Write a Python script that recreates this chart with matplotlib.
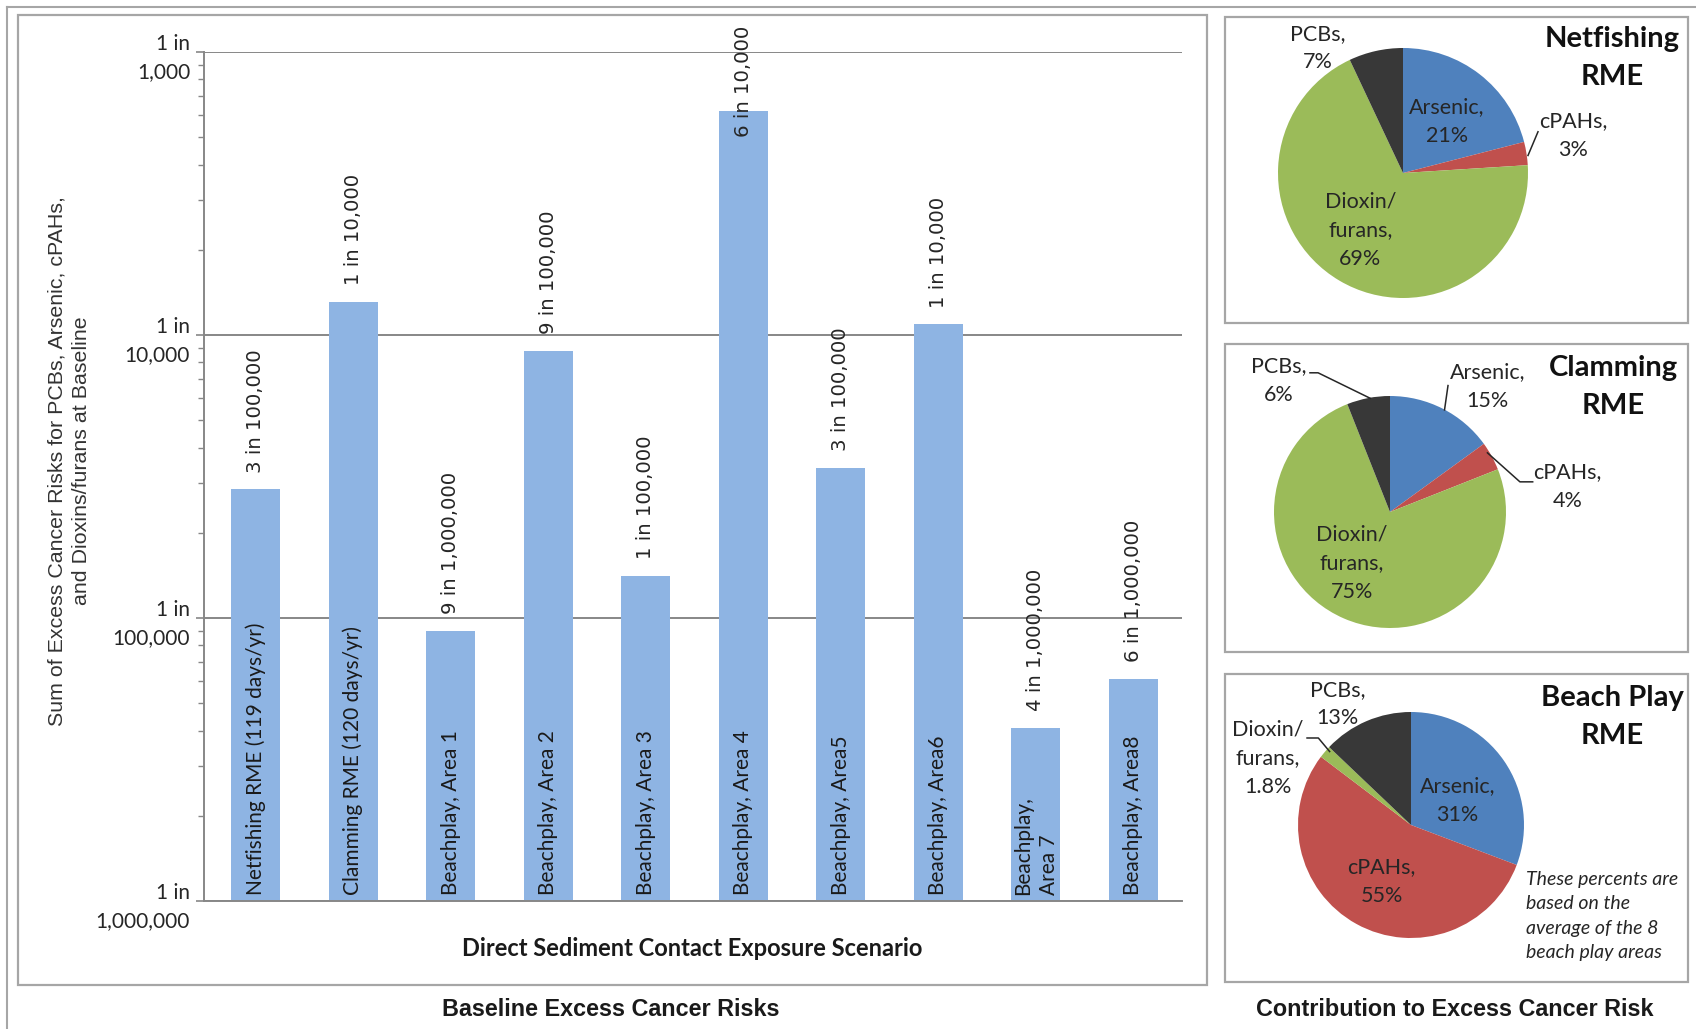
import numpy as np
import matplotlib
matplotlib.use("Agg")
import matplotlib.pyplot as plt
from matplotlib.patches import Rectangle
from matplotlib.lines import Line2D
from matplotlib.ticker import LogLocator, NullFormatter, FixedLocator

plt.rcParams['font.family'] = ['Lato', 'DejaVu Sans']

W, H, DPI = 1696, 1029, 100

# Baseline excess cancer risk per exposure scenario
scenarios = ["Netfishing RME (119 days/yr)", "Clamming RME (120 days/yr)",
             "Beachplay, Area 1", "Beachplay, Area 2", "Beachplay, Area 3",
             "Beachplay, Area 4", "Beachplay, Area5", "Beachplay, Area6",
             "Beachplay,\nArea 7", "Beachplay, Area8"]
risk = [2.85e-5, 1.31e-4, 9.0e-6, 8.8e-5, 1.41e-5,
        6.2e-4, 3.4e-5, 1.09e-4, 4.1e-6, 6.1e-6]

y_ticks = [1e-6, 1e-5, 1e-4, 1e-3]
y_tick_labels = ["1 in\n1,000,000", "1 in\n100,000", "1 in\n10,000", "1 in\n1,000"]

# Contribution of each chemical group (percent)
chemicals = ["Arsenic", "cPAHs", "Dioxin/\nfurans", "PCBs"]
netfishing_pct = [21, 3, 69, 7]
clamming_pct = [15, 4, 75, 6]
beachplay_pct = [31, 55, 1.8, 13]
pie_titles = ["Netfishing\nRME", "Clamming\nRME", "Beach Play\nRME"]

BAR_COLOR = "#8EB4E3"
PIE_COLORS = ["#4F81BD", "#C0504D", "#9BBB59", "#383838"]
GRID = "#878787"
FRAME = "#A6A6A6"


def fx(x):
    return x / W


def fy(y):
    return 1 - y / H


def risk_label(v):
    e = int(np.floor(np.log10(v)))
    m = int(round(v / 10 ** e))
    return "{} in {:,}".format(m, 10 ** (-e))


fig = plt.figure(figsize=(W / DPI, H / DPI), dpi=DPI)

# frames
fig.add_artist(Line2D([fx(7), fx(7)], [fy(7), 0], color=FRAME, lw=1.5))
fig.add_artist(Line2D([fx(7), 1], [fy(7), fy(7)], color=FRAME, lw=1.5))
fig.add_artist(Rectangle((fx(18), fy(985)), fx(1207) - fx(18), fy(15) - fy(985),
                         transform=fig.transFigure, fill=False, ec=FRAME, lw=1.6))

# ---- bar chart ----
ax = fig.add_axes([fx(204), fy(901), fx(1182) - fx(204), fy(52) - fy(901)])
x = np.arange(len(risk))
ax.bar(x, risk, width=0.5, color=BAR_COLOR, zorder=2)
ax.set_yscale("log")
ax.set_ylim(1e-6, 1e-3)
ax.set_xlim(-0.53, len(risk) - 0.5)
ax.yaxis.set_major_locator(FixedLocator(y_ticks))
ax.set_yticklabels(y_tick_labels)
ax.yaxis.set_minor_locator(LogLocator(base=10, subs=np.arange(2, 10)))
ax.yaxis.set_minor_formatter(NullFormatter())
ax.tick_params(axis="y", which="major", length=6, width=1.2, color=GRID,
               labelsize=15, labelcolor="#262626", pad=4)
ax.tick_params(axis="y", which="minor", length=4, width=1.0, color=GRID)
ax.tick_params(axis="x", bottom=False, labelbottom=False)
for lab in ax.get_yticklabels():
    lab.set_multialignment("right")
    lab.set_linespacing(1.5)
ax.grid(axis="y", which="major", color=GRID, lw=1.4, zorder=1)
for s in ["top", "right"]:
    ax.spines[s].set_visible(False)
for s in ["left", "bottom"]:
    ax.spines[s].set_color(GRID)
    ax.spines[s].set_linewidth(1.4)

value_texts = []
for i, v in enumerate(risk):
    t = ax.annotate(risk_label(v), (i, v), xytext=(0, 12), textcoords="offset points",
                    rotation=90, ha="center", va="bottom", fontsize=14.2,
                    family="DejaVu Sans", color="#262626", zorder=3)
    value_texts.append(t)
    ax.annotate(scenarios[i], (i, 1e-6), xytext=(0, 4), textcoords="offset points",
                rotation=90, ha="center", va="bottom", fontsize=15,
                multialignment="left", linespacing=1.35, color="#1a1a1a", zorder=3)

ax.set_facecolor("none")

fig.text(fx(69), fy(461), "Sum of Excess Cancer Risks for PCBs, Arsenic, cPAHs,\n"
         "and Dioxins/furans at Baseline", rotation=90, ha="center", va="center",
         multialignment="center", fontsize=15.4, linespacing=1.35,
         family="Liberation Sans", color="#333333")
fig.text(fx(692), fy(949), "Direct Sediment Contact Exposure Scenario",
         ha="center", va="center", fontsize=17, fontweight="bold", color="#1a1a1a")
fig.text(fx(611), fy(1010), "Baseline Excess Cancer Risks", ha="center", va="center",
         fontsize=16.8, fontweight="bold", family="Liberation Sans", color="#1a1a1a")
fig.text(fx(1455), fy(1010), "Contribution to Excess Cancer Risk", ha="center",
         va="center", fontsize=16.8, fontweight="bold", family="Liberation Sans",
         color="#1a1a1a")

# ---- pies ----
pie_boxes = [(17, 323), (344, 652), (674, 982)]
pie_centers = [(1403, 173, 125), (1390, 512, 116), (1411, 825, 113)]
title_pos = [(1612, 58), (1613, 387), (1612, 717)]
# label positions in units of pie radius
label_pos = [
    [(0.35, 0.41), (1.36, 0.30), (-0.34, -0.46), (-0.68, 1.0)],
    [(0.84, 1.08), (1.53, 0.22), (-0.33, -0.44), (-0.96, 1.13)],
    [(0.41, 0.22), (-0.26, -0.50), (-1.27, 0.59), (-0.65, 1.07)],
]
leaders = [
    [[(1.0, 0.14), (1.08, 0.33)]],
    [[(-0.69, 1.20), (-0.62, 1.20), (-0.17, 0.98)],
     [(0.50, 1.09), (0.47, 0.88)],
     [(0.84, 0.51), (1.12, 0.26), (1.23, 0.26)]],
    [[(-0.92, 0.77), (-0.82, 0.77), (-0.72, 0.65)]],
]

for k, pct in enumerate([netfishing_pct, clamming_pct, beachplay_pct]):
    top, bot = pie_boxes[k]
    fig.add_artist(Rectangle((fx(1225), fy(bot)), fx(1688) - fx(1225), fy(top) - fy(bot),
                             transform=fig.transFigure, fill=False, ec=FRAME, lw=1.6))
    cx, cy, r = pie_centers[k]
    pax = fig.add_axes([fx(cx - r), fy(cy + r), 2 * r / W, 2 * r / H])
    pax.pie(pct, colors=PIE_COLORS, startangle=90, counterclock=False,
            radius=1, wedgeprops=dict(linewidth=0))
    pax.set_xlim(-1, 1)
    pax.set_ylim(-1, 1)
    pax.set_aspect("auto")
    pax.axis("off")
    for name, p, (lx, ly) in zip(chemicals, pct, label_pos[k]):
        pax.text(lx, ly, "{},\n{:g}%".format(name, p), ha="center", va="center",
                 fontsize=15.5, color="#262626", linespacing=1.55)
    for seg in leaders[k]:
        xs, ys = zip(*seg)
        pax.plot(xs, ys, color="#262626", lw=1.1, clip_on=False)
    tx, ty = title_pos[k]
    fig.text(fx(tx), fy(ty), pie_titles[k], ha="center", va="center", fontsize=21,
             fontweight="bold", color="#111111", linespacing=1.55)

fig.text(fx(1526), fy(871), "These percents are\nbased on the\naverage of the 8\n"
         "beach play areas", ha="left", va="top", fontsize=14, style="italic",
         color="#262626", linespacing=1.52)

# keep the value labels inside the chart frame
fig.canvas.draw()
cap = H - 26
for t in value_texts:
    bb = t.get_window_extent()
    if bb.y1 > cap:
        t.xyann = (0, 12 - (bb.y1 - cap) * 72.0 / DPI)

fig.savefig("out.png", dpi=DPI, facecolor="white")
